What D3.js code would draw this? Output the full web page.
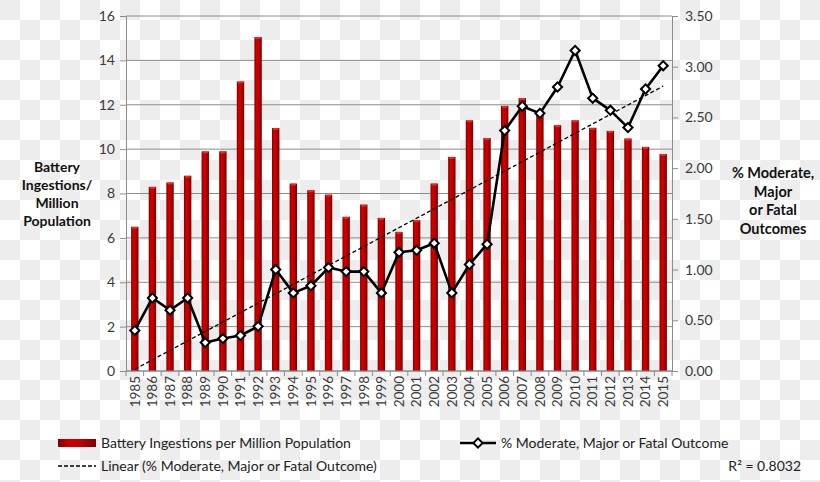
<!DOCTYPE html>
<html>
<head>
<meta charset="utf-8">
<script src="https://cdn.jsdelivr.net/npm/d3@7/dist/d3.min.js"></script>
<style>
  html, body { margin: 0; padding: 0; background: #fff; }
  svg { display: block; font-family: Lato, "Open Sans", sans-serif; }
</style>
</head>
<body>
<svg id="chart" width="820" height="482"></svg>
<script>
const years = d3.range(1985, 2016).map(String);
const ingestions = [6.5, 8.3, 8.5, 8.8, 9.9, 9.9, 13.05, 15.05, 10.95, 8.45, 8.15, 7.95, 6.95, 7.5, 6.9, 6.27, 6.8, 8.45, 9.65, 11.3, 10.5, 11.95, 12.3, 11.55, 11.08, 11.3, 10.96, 10.82, 10.48, 10.1, 9.78];
const outcomes = [0.40, 0.72, 0.60, 0.72, 0.28, 0.32, 0.35, 0.44, 1.00, 0.77, 0.84, 1.02, 0.98, 0.98, 0.77, 1.17, 1.19, 1.26, 0.77, 1.05, 1.25, 2.37, 2.61, 2.54, 2.80, 3.16, 2.69, 2.57, 2.40, 2.78, 3.01];
const leftTicks = [0, 2, 4, 6, 8, 10, 12, 14, 16];
const rightTicks = [0, 0.5, 1, 1.5, 2, 2.5, 3, 3.5];
const leftTitle = ["Battery", "Ingestions/", "Million", "Population"];
const rightTitle = ["% Moderate,", "Major", "or Fatal", "Outcomes"];
const legendBar = "Battery Ingestions per Million Population";
const legendLine = "% Moderate, Major or Fatal Outcome";
const legendTrend = "Linear (% Moderate, Major or Fatal Outcome)";
const rSquared = "R² = 0.8032";

const svg = d3.select("#chart");
const W = 820, H = 482;
const L = 126, R = 672, T = 16, B = 371;

// checkerboard background
const defs = svg.append("defs");
const pat = defs.append("pattern").attr("id", "checker").attr("width", 40).attr("height", 40).attr("patternUnits", "userSpaceOnUse");
pat.append("rect").attr("width", 40).attr("height", 40).attr("fill", "#ffffff");
pat.append("rect").attr("x", 0).attr("y", 0).attr("width", 20).attr("height", 20).attr("fill", "#ededed");
pat.append("rect").attr("x", 20).attr("y", 20).attr("width", 20).attr("height", 20).attr("fill", "#ededed");
svg.append("rect").attr("width", W).attr("height", H).attr("fill", "url(#checker)");

// bar gradient
const grad = defs.append("linearGradient").attr("id", "barGrad").attr("x1", "0%").attr("x2", "100%").attr("y1", "0%").attr("y2", "0%");
[["0%", "#7e0000"], ["30%", "#d00000"], ["55%", "#c40000"], ["100%", "#7a0000"]].forEach(([o, c]) => grad.append("stop").attr("offset", o).attr("stop-color", c));

const x = d3.scaleBand().domain(years).range([L, R]).paddingInner(0).paddingOuter(0);
const yL = d3.scaleLinear().domain([0, 16]).range([B, T]);
const yR = d3.scaleLinear().domain([0, 3.5]).range([B, T]);

// gridlines
svg.append("g").selectAll("line").data(leftTicks).join("line")
  .attr("x1", L).attr("x2", R).attr("y1", d => yL(d)).attr("y2", d => yL(d))
  .attr("stroke", "#8c8c8c").attr("stroke-width", 1);

// bars
const bw = x.bandwidth() * 0.42;
svg.append("g").selectAll("rect").data(ingestions).join("rect")
  .attr("x", (d, i) => x(years[i]) + x.bandwidth() / 2 - bw / 2)
  .attr("y", d => yL(d))
  .attr("width", bw)
  .attr("height", d => B - yL(d))
  .attr("fill", "url(#barGrad)");
svg.append("g").selectAll("rect").data(ingestions).join("rect")
  .attr("x", (d, i) => x(years[i]) + x.bandwidth() / 2 - bw / 2 + 1)
  .attr("y", d => yL(d))
  .attr("width", bw - 2)
  .attr("height", 2)
  .attr("fill", "#f04040").attr("opacity", 0.7);

// axes
const axisL = svg.append("g").attr("transform", `translate(${L},0)`)
  .call(d3.axisLeft(yL).tickValues(leftTicks).tickSize(6).tickPadding(5).tickFormat(d3.format("d")));
const axisR = svg.append("g").attr("transform", `translate(${R},0)`)
  .call(d3.axisRight(yR).tickValues(rightTicks).tickSize(6).tickPadding(7).tickFormat(d3.format(".2f")));
const axisX = svg.append("g").attr("transform", `translate(0,${B})`)
  .call(d3.axisBottom(x).tickSize(0).tickPadding(4));
[axisL, axisR, axisX].forEach(g => {
  g.select(".domain").attr("stroke", "#8c8c8c");
  g.selectAll(".tick line").attr("stroke", "#8c8c8c");
  g.selectAll("text").attr("fill", "#3a3a3a").style("font-size", "14px").style("font-family", "Lato, sans-serif");
});
axisX.select(".domain").remove();
axisX.append("line").attr("x1", L).attr("x2", R).attr("y1", 0).attr("y2", 0).attr("stroke", "#8c8c8c");
axisX.selectAll(".tick text")
  .attr("transform", "rotate(-90)")
  .attr("text-anchor", "end")
  .attr("x", -5).attr("y", 0).attr("dy", "0.35em")
  .style("font-size", "13.5px");
// category boundary ticks
svg.append("g").selectAll("line").data(d3.range(years.length + 1)).join("line")
  .attr("x1", i => L + i * x.step()).attr("x2", i => L + i * x.step())
  .attr("y1", B).attr("y2", B + 5).attr("stroke", "#8c8c8c");

// trendline (least squares on outcome series)
const n = outcomes.length;
const xs = d3.range(1, n + 1);
const mx = d3.mean(xs), my = d3.mean(outcomes);
const slope = d3.sum(xs, (v, i) => (v - mx) * (outcomes[i] - my)) / d3.sum(xs, v => (v - mx) ** 2);
const icpt = my - slope * mx;
const cx = i => x(years[i]) + x.bandwidth() / 2;
svg.append("line")
  .attr("x1", cx(0)).attr("y1", yR(icpt + slope * 1))
  .attr("x2", cx(n - 1)).attr("y2", yR(icpt + slope * n))
  .attr("stroke", "#000").attr("stroke-width", 1.3).attr("stroke-dasharray", "4,2.5");

// outcome line
svg.append("path").datum(outcomes)
  .attr("d", d3.line().x((d, i) => cx(i)).y(d => yR(d)))
  .attr("fill", "none").attr("stroke", "#000").attr("stroke-width", 2.6).attr("stroke-linejoin", "round");
const diamond = d3.symbol().type(d3.symbolSquare).size(42);
svg.append("g").selectAll("path").data(outcomes).join("path")
  .attr("d", diamond)
  .attr("transform", (d, i) => `translate(${cx(i)},${yR(d)}) rotate(45)`)
  .attr("fill", "#fff").attr("stroke", "#000").attr("stroke-width", 2);

// titles
const tl = svg.append("text").attr("text-anchor", "middle").attr("font-weight", "bold").style("font-size", "14px").attr("fill", "#111");
leftTitle.forEach((t, i) => tl.append("tspan").attr("x", 57).attr("y", 172 + i * 18).text(t));
const tr = svg.append("text").attr("text-anchor", "middle").attr("font-weight", "bold").style("font-size", "14.5px").attr("fill", "#111");
rightTitle.forEach((t, i) => tr.append("tspan").attr("x", 773).attr("y", 178 + i * 18.5).text(t));

// legend
const lg = svg.append("g").style("font-size", "14px").attr("fill", "#222");
lg.append("rect").attr("x", 58).attr("y", 439).attr("width", 38).attr("height", 8).attr("fill", "url(#barGrad)");
lg.append("text").attr("x", 101).attr("y", 448).text(legendBar);
lg.append("line").attr("x1", 58).attr("x2", 96).attr("y1", 466).attr("y2", 466).attr("stroke", "#000").attr("stroke-width", 1.3).attr("stroke-dasharray", "4,2");
lg.append("text").attr("x", 101).attr("y", 471).text(legendTrend);
lg.append("line").attr("x1", 460).attr("x2", 496).attr("y1", 443).attr("y2", 443).attr("stroke", "#000").attr("stroke-width", 2.6);
lg.append("path").attr("d", diamond).attr("transform", "translate(478,443) rotate(45)").attr("fill", "#fff").attr("stroke", "#000").attr("stroke-width", 2);
lg.append("text").attr("x", 501).attr("y", 448).text(legendLine);
lg.append("text").attr("x", 801).attr("y", 471).attr("text-anchor", "end").text(rSquared);
</script>
</body>
</html>
